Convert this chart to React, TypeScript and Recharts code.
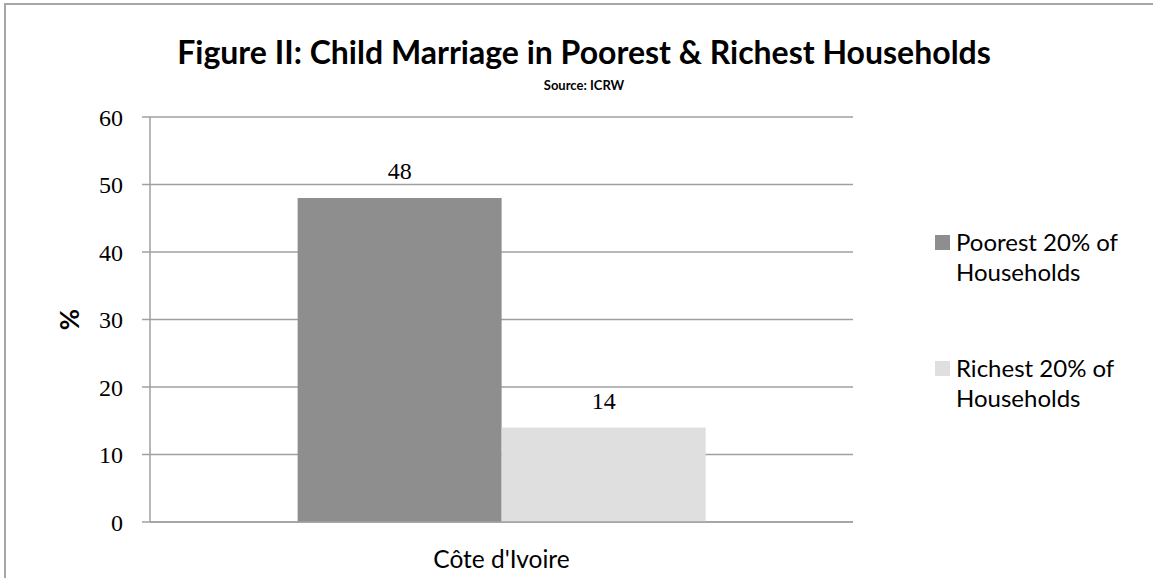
import React from 'react';
import {
  BarChart, Bar, XAxis, YAxis, CartesianGrid, LabelList,
} from 'recharts';

// ── Data ──────────────────────────────────────────────────────────────────────
const categories = ["Côte d'Ivoire"];
const poorest = [48];
const richest = [14];
const yTicks = [0, 10, 20, 30, 40, 50, 60];

const SERIES = [
  { key: 'poorest', line1: 'Poorest 20% of', line2: 'Households', color: '#8e8e8e' },
  { key: 'richest', line1: 'Richest 20% of', line2: 'Households', color: '#dfdfdf' },
];

const rows = categories.map((c, i) => ({ country: c, poorest: poorest[i], richest: richest[i] }));

const SANS = 'Lato, "Open Sans", sans-serif';
const SERIF = '"Liberation Serif", "DejaVu Serif", serif';
const GRID = '#a0a0a0';

// legend drawn outside the chart so it doesn't shrink the plot area
function LegendBox() {
  return (
    <div style={{
      position: 'absolute', left: 935, top: 227, width: 215,
      fontFamily: SANS, fontSize: 24, lineHeight: '30px', color: '#000',
    }}>
      {SERIES.map(s => (
        <div key={s.key} style={{ display: 'flex', marginBottom: 66 }}>
          <div style={{ width: 15, height: 15, background: s.color, marginTop: 8, marginRight: 6, flexShrink: 0 }} />
          <div>{s.line1}<br />{s.line2}</div>
        </div>
      ))}
    </div>
  );
}

export default function App() {
  return (
    <div style={{ position: 'absolute', left: 0, top: 0, width: 1153, height: 578, background: '#fff', overflow: 'hidden' }}>
      {/* chart frame */}
      <div style={{ position: 'absolute', left: 4, top: 3, width: 1160, height: 590, border: '2px solid #a6a6a6' }} />

      <div style={{
        position: 'absolute', left: 0, width: 1168, top: 34, textAlign: 'center',
        fontFamily: SANS, fontWeight: 700, fontSize: 32, lineHeight: '36px', color: '#000',
      }}>
        Figure II: Child Marriage in Poorest &amp; Richest Households
      </div>
      <div style={{
        position: 'absolute', left: 0, width: 1168, top: 78, textAlign: 'center',
        fontFamily: SANS, fontWeight: 700, fontSize: 13, lineHeight: '15px', color: '#000',
      }}>
        Source: ICRW
      </div>

      <div style={{ position: 'absolute', left: 0, top: 0 }}>
        <BarChart
          width={1153}
          height={578}
          data={rows}
          margin={{ top: 117, right: 300, left: 60, bottom: 26 }}
          barCategoryGap="21%"
          barGap={0}
        >
          <CartesianGrid vertical={false} stroke={GRID} strokeWidth={1.5} />
          <XAxis
            xAxisId="edge"
            type="number"
            domain={[0, 1]}
            ticks={[0, 1]}
            height={0}
            axisLine={false}
            tickLine={{ stroke: GRID, strokeWidth: 1.5 }}
            tickSize={9}
            tickFormatter={() => ''}
          />
          <XAxis
            dataKey="country"
            height={30}
            axisLine={{ stroke: GRID, strokeWidth: 1.5 }}
            tickLine={false}
            tick={{ fill: '#000', fontFamily: SANS, fontSize: 24.5 }}
            tickMargin={23}
          />
          <YAxis
            domain={[0, 60]}
            ticks={yTicks}
            width={90}
            axisLine={{ stroke: GRID, strokeWidth: 1.5 }}
            tickLine={{ stroke: GRID, strokeWidth: 1.5 }}
            tickSize={8}
            tickMargin={19}
            tick={{ fill: '#000', fontFamily: SERIF, fontSize: 24 }}
            label={{
              value: '%', angle: -90, position: 'insideLeft', offset: 10,
              style: { fill: '#000', fontFamily: SANS, fontWeight: 700, fontSize: 26, textAnchor: 'middle' },
            }}
          />
          {SERIES.map(s => (
            <Bar key={s.key} dataKey={s.key} fill={s.color} isAnimationActive={false}>
              <LabelList
                dataKey={s.key}
                position="top"
                offset={19}
                style={{ fill: '#000', fontFamily: SERIF, fontSize: 24 }}
              />
            </Bar>
          ))}
        </BarChart>
      </div>
      <LegendBox />
    </div>
  );
}
